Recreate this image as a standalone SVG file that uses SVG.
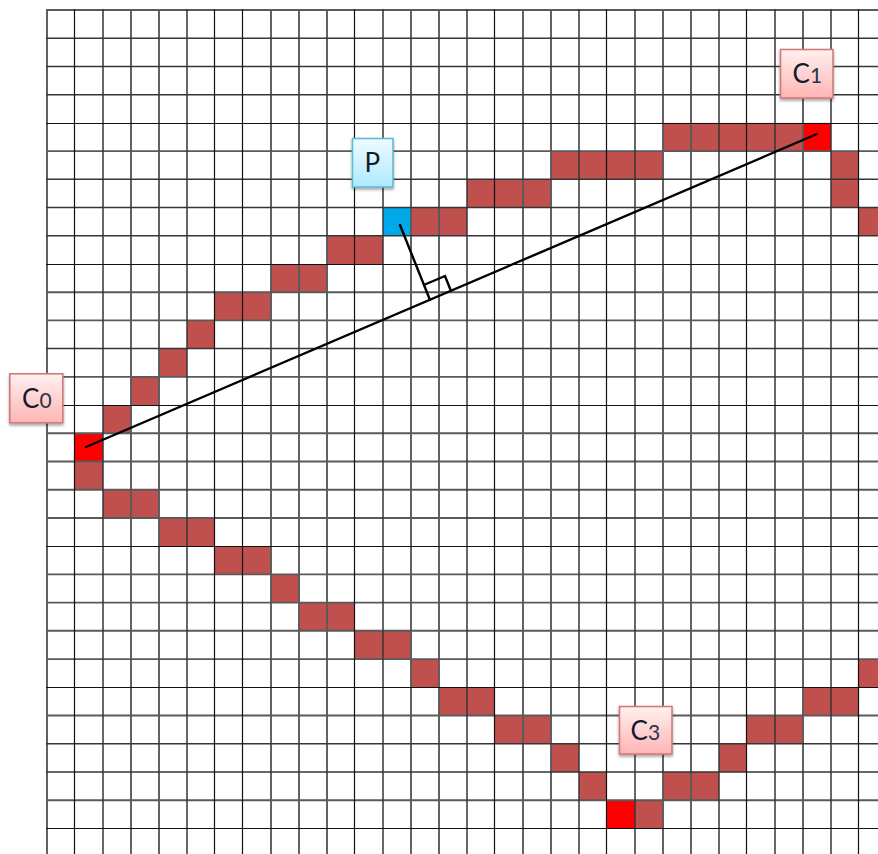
<svg xmlns="http://www.w3.org/2000/svg" width="878" height="854" viewBox="0 0 878 854">
<style>
.b{fill:#c0504d}.r{fill:#ff0000}.u{fill:#00a9e8}
.gd,.gm,.gs{fill:none}
.gd{stroke:#111;stroke-width:1.2}
.gm{stroke:#363636;stroke-width:1.5}
.gs{stroke:#5a5a5a;stroke-width:1.9}
.l{fill:none;stroke:#000;stroke-width:2.4;stroke-linecap:round;stroke-linejoin:miter}
.n{stroke-width:1.6;filter:url(#s)}
.pk{fill:url(#pg);stroke:#cf7b78}.bl{fill:url(#bg);stroke:#5fbcd3}
text{font-family:Lato,"Open Sans",sans-serif;fill:#111a2a;font-size:26px}
.sm{font-size:21px;fill:#27344a}
</style>
<defs>
<linearGradient id="pg" x1="0" y1="0" x2="0" y2="1"><stop offset="0" stop-color="#fff0f0"/><stop offset="1" stop-color="#ffb4b4"/></linearGradient>
<linearGradient id="bg" x1="0" y1="0" x2="0" y2="1"><stop offset="0" stop-color="#f0fbff"/><stop offset="1" stop-color="#aee9fd"/></linearGradient>
<filter id="s" x="-20%" y="-20%" width="140%" height="140%"><feDropShadow dx="0" dy="2" stdDeviation="1.5" flood-color="#000" flood-opacity=".35"/></filter>
</defs>
<rect width="878" height="854" fill="#fff"/>
<g id="cells">
<rect class="r" x="75" y="433.3" width="28" height="28.2"/>
<rect class="b" x="75" y="461.5" width="28" height="28.2"/>
<rect class="b" x="103" y="405.1" width="28" height="28.2"/>
<rect class="b" x="131" y="376.9" width="28" height="28.2"/>
<rect class="b" x="159" y="348.6" width="28" height="28.2"/>
<rect class="b" x="187" y="320.4" width="28" height="28.2"/>
<rect class="b" x="215" y="292.2" width="56" height="28.2"/>
<rect class="b" x="271" y="264" width="56" height="28.2"/>
<rect class="b" x="327" y="235.8" width="56" height="28.2"/>
<rect class="u" x="383" y="207.5" width="28" height="28.2"/>
<rect class="b" x="411" y="207.5" width="56" height="28.2"/>
<rect class="b" x="467" y="179.3" width="84" height="28.2"/>
<rect class="b" x="551" y="151.1" width="112" height="28.2"/>
<rect class="b" x="663" y="122.9" width="140" height="28.2"/>
<rect class="r" x="803" y="122.9" width="28" height="28.2"/>
<rect class="b" x="831" y="151.1" width="28" height="56.4"/>
<rect class="b" x="859" y="207.5" width="19" height="28.2"/>
<rect class="b" x="103" y="489.7" width="56" height="28.2"/>
<rect class="b" x="159" y="518" width="56" height="28.2"/>
<rect class="b" x="215" y="546.2" width="56" height="28.2"/>
<rect class="b" x="271" y="574.4" width="28" height="28.2"/>
<rect class="b" x="299" y="602.6" width="56" height="28.2"/>
<rect class="b" x="355" y="630.8" width="56" height="28.2"/>
<rect class="b" x="411" y="659.1" width="28" height="28.2"/>
<rect class="b" x="439" y="687.3" width="56" height="28.2"/>
<rect class="b" x="495" y="715.5" width="56" height="28.2"/>
<rect class="b" x="551" y="743.7" width="28" height="28.2"/>
<rect class="b" x="579" y="771.9" width="28" height="28.2"/>
<rect class="r" x="607" y="800.2" width="28" height="28.2"/>
<rect class="b" x="635" y="800.2" width="28" height="28.2"/>
<rect class="b" x="663" y="771.9" width="56" height="28.2"/>
<rect class="b" x="719" y="743.7" width="28" height="28.2"/>
<rect class="b" x="747" y="715.5" width="56" height="28.2"/>
<rect class="b" x="803" y="687.3" width="56" height="28.2"/>
<rect class="b" x="859" y="659.1" width="19" height="28.2"/>
</g>
<g id="grid">
<path class="gs" d="M47 9V854M131 9V854M159 9V854M271 9V854M299 9V854M327 9V854M411 9V854M439 9V854M523 9V854M551 9V854M663 9V854M691 9V854M803 9V854"/>
<path class="gs" d="M46 10H878M46 151.100H878M46 292.200H878M46 320.400H878M46 376.900H878M46 433.300H878M46 461.500H878M46 489.700H878M46 518H878M46 574.400H878M46 602.600H878M46 630.800H878M46 659.100H878M46 715.500H878M46 800.200H878"/>
<path class="gm" d="M103 9V854M187 9V854M383 9V854M467 9V854M579 9V854M635 9V854M719 9V854M775 9V854M831 9V854"/>
<path class="gm" d="M46 38.200H878M46 66.400H878M46 94.700H878M46 179.300H878M46 207.500H878M46 235.800H878M46 348.600H878M46 743.700H878M46 771.900H878"/>
<path class="gd" d="M74.500 9V854M214.500 9V854M242.500 9V854M354.500 9V854M494.500 9V854M606.500 9V854M746.500 9V854M858.500 9V854"/>
<path class="gd" d="M46 123.500H878M46 264.500H878M46 405.500H878M46 546.500H878M46 687.500H878M46 828.500H878"/>
</g>
<g id="connectors" class="l">
<path d="M86 447L817 134"/>
<path d="M400 225L430 300"/>
<path d="M425 284.500L445 276L451 291"/>
</g>
<g id="C0"><rect class="n pk" x="9.800" y="373.800" width="53" height="49"/><text x="22" y="408">C<tspan class="sm">0</tspan></text></g>
<g id="P"><rect class="n bl" x="352.500" y="138.500" width="40.500" height="48.500"/><text x="364.500" y="172">P</text></g>
<g id="C1"><rect class="n pk" x="780.500" y="49.500" width="52.500" height="48.500"/><text x="792.500" y="82.500">C<tspan class="sm">1</tspan></text></g>
<g id="C3"><rect class="n pk" x="619.500" y="706.500" width="52.500" height="47.500"/><text x="630.500" y="740">C<tspan class="sm">3</tspan></text></g>
</svg>
